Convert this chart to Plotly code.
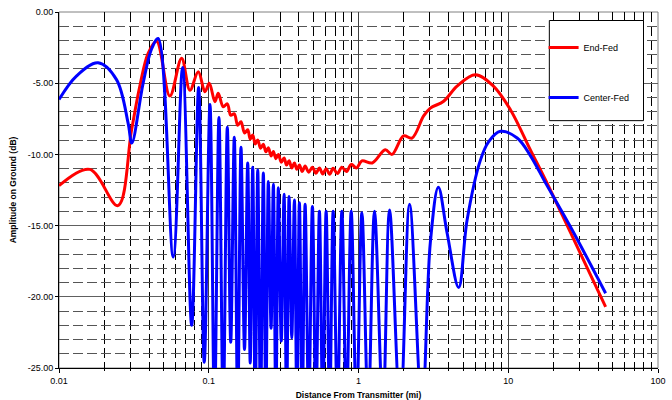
import plotly.graph_objects as go

# ---- data ----
blue_x = [0.01, 0.01307, 0.01823, 0.02421, 0.02894, 0.03064, 0.03646, 0.0415, 0.0460,
          0.0579, 0.0669, 0.0769, 0.0856, 0.0933, 0.1019, 0.1092, 0.1170, 0.1249, 0.1330,
          0.1402, 0.1481, 0.1561, 0.1642, 0.1733, 0.1820, 0.1892, 0.1966, 0.2044, 0.2124,
          0.2218, 0.2315, 0.2406, 0.2500, 0.2607, 0.2701, 0.2807, 0.2917, 0.3050, 0.3184,
          0.3309, 0.3440, 0.3585, 0.3732, 0.3878, 0.4031, 0.4208, 0.4400, 0.4652, 0.4923,
          0.5196, 0.5483, 0.5770, 0.6079, 0.6418, 0.6772, 0.7237, 0.7745, 0.8312, 0.8938,
          0.9696, 1.054, 1.161, 1.279, 1.456, 1.612, 1.901, 2.193, 2.656, 3.017, 3.413,
          3.903, 4.666, 5.311, 6.518, 7.406, 8.869, 11.47, 14.08, 17.74, 26.07, 44.69]
blue_y = [-6.15, -4.5, -3.57, -4.75, -7.8, -9.2, -5.0, -2.6, -1.86,
          -17.2, -3.9, -22.0, -5.3, -24.6, -6.5, -28, -7.4, -28, -8.1,
          -23.2, -8.8, -28, -9.5, -23.7, -10.6, -24.65, -10.9, -28, -11.1,
          -28, -11.3, -28, -11.9, -22.2, -12.1, -28, -12.35, -23.1, -12.8,
          -28, -12.95, -22.9, -13.2, -28, -13.4, -28, -13.5, -28, -13.65,
          -28, -14.0, -28, -14.0, -28, -14.0, -28, -14.0, -28, -14.0,
          -28, -14.1, -28, -14.0, -28, -13.9, -28, -13.5, -28, -16.2, -12.3,
          -15.5, -19.35, -14.6, -10.4, -9.1, -8.38, -8.85, -10.1, -12.0, -15.1, -19.75]

red_x = [0.01, 0.01605, 0.0247, 0.0305, 0.03466, 0.03937, 0.04482, 0.05502, 0.06587,
         0.07486, 0.08508, 0.09432, 0.1008, 0.1100, 0.1157, 0.1249, 0.1330, 0.1402,
         0.1481, 0.1561, 0.1642, 0.1733, 0.1820, 0.1892, 0.1966, 0.2044, 0.2124, 0.2218,
         0.2315, 0.2406, 0.2500, 0.2607, 0.2701, 0.2807, 0.2917, 0.3050, 0.3184, 0.3309,
         0.3440, 0.3585, 0.3732, 0.3878, 0.4031, 0.4208, 0.4400, 0.4652, 0.4923, 0.5196,
         0.5483, 0.5770, 0.6079, 0.6418, 0.6772, 0.7237, 0.7745, 0.8312, 0.8938, 0.9696,
         1.054, 1.235, 1.509, 1.673, 2.000, 2.276, 2.722, 3.017, 3.704, 4.551, 6.034,
         7.962, 10.34, 14.08, 17.74, 26.07, 44.69]
red_y = [-12.2, -11.05, -13.6, -8.3, -5.2, -2.9, -2.05, -5.9, -3.25,
         -5.5, -4.2, -5.6, -5.0, -6.3, -5.7, -6.65, -6.45, -7.25,
         -7.15, -7.95, -7.7, -8.5, -8.27, -8.93, -8.63, -9.27, -8.98, -9.57,
         -9.28, -9.82, -9.54, -10.11, -9.8, -10.3, -10.0, -10.55, -10.25, -10.75,
         -10.45, -10.95, -10.6, -11.05, -10.75, -11.2, -10.82, -11.25, -10.9, -11.32,
         -10.95, -11.38, -11.0, -11.4, -10.98, -11.35, -10.9, -11.2, -10.7, -10.95,
         -10.45, -10.6, -9.67, -10.0, -8.7, -8.85, -7.3, -6.75, -6.27, -5.2, -4.4,
         -5.2, -6.86, -9.7, -11.8, -15.5, -20.7]

series_names = ["End-Fed", "Center-Fed"]
x_tick_vals = [0.01, 0.1, 1, 10, 100]
x_tick_text = ["0.01", "0.1", "1", "10", "100"]
x_minor_vals = [m * 10.0 ** e for e in (-2, -1, 0, 1) for m in range(2, 10)]
y_tick_vals = [0, -5, -10, -15, -20, -25]
y_tick_text = ["0.00", "-5.00", "-10.00", "-15.00", "-20.00", "-25.00"]

FONT = "Liberation Sans, Arial, sans-serif"

fig = go.Figure()
fig.add_trace(go.Scatter(x=red_x, y=red_y, mode="lines", name=series_names[0],
                         legendgroup="a",
                         line=dict(color="#FF0000", width=3, shape="spline", smoothing=1.0)))
fig.add_trace(go.Scatter(x=blue_x, y=blue_y, mode="lines", name=series_names[1],
                         legendgroup="b",
                         line=dict(color="#0000FF", width=3, shape="spline", smoothing=1.0)))

fig.update_layout(
    width=672, height=400,
    margin=dict(l=59, r=14, t=12, b=32),
    paper_bgcolor="white", plot_bgcolor="white",
    font=dict(family=FONT, size=9, color="#000"),
    showlegend=True,
    legend=dict(x=0.809, y=0.941, xanchor="left", yanchor="top",
                bgcolor="rgba(0,0,0,0)", borderwidth=0,
                traceorder="grouped", tracegroupgap=31,
                font=dict(family=FONT, size=9, color="#000")),
    xaxis=dict(type="log", range=[-2, 2], tickmode="array",
               tickvals=x_tick_vals, ticktext=x_tick_text,
               showgrid=True, gridcolor="#404040", gridwidth=1,
               showline=True, linecolor="#000", linewidth=1,
               ticks="outside", ticklen=4, tickcolor="#000",
               minor=dict(tickvals=x_minor_vals, showgrid=True, gridcolor="#000",
                          griddash="10px,4px", gridwidth=1,
                          ticks="outside", ticklen=2, tickcolor="#000"),
               zeroline=False, automargin=False,
               tickfont=dict(size=9, color="#000"),
               title=dict(text="<b>Distance From Transmitter (mi)</b>", standoff=7,
                          font=dict(size=8.5, color="#000"))),
    yaxis=dict(range=[-25, 0], tickmode="array",
               tickvals=y_tick_vals, ticktext=y_tick_text,
               showgrid=True, gridcolor="#606060", gridwidth=1,
               showline=True, linecolor="#000", linewidth=1,
               ticks="outside", ticklen=3, tickcolor="#000",
               minor=dict(dtick=1, showgrid=True, gridcolor="#555",
                          griddash="10px,4px", gridwidth=1),
               zeroline=False, automargin=False,
               tickfont=dict(size=9, color="#000"),
               title=dict(text="<b>Amplitude on Ground (dB)</b>", standoff=9,
                          font=dict(size=8.5, color="#000"))),
    shapes=[
        # grey frame around plot area
        dict(type="rect", xref="paper", yref="paper", x0=0, x1=1, y0=0, y1=1,
             line=dict(color="#808080", width=1), fillcolor="rgba(0,0,0,0)", layer="between"),
        # legend box
        dict(type="rect", xref="paper", yref="paper", x0=0.8186, x1=0.9758, y0=0.6948, y1=0.9761,
             line=dict(color="#000", width=1), fillcolor="white", layer="above"),
    ],
)

fig.write_html("out.html",
               config={"displayModeBar": False},
               post_script="document.body.style.margin='0';document.body.style.overflow='hidden';")
